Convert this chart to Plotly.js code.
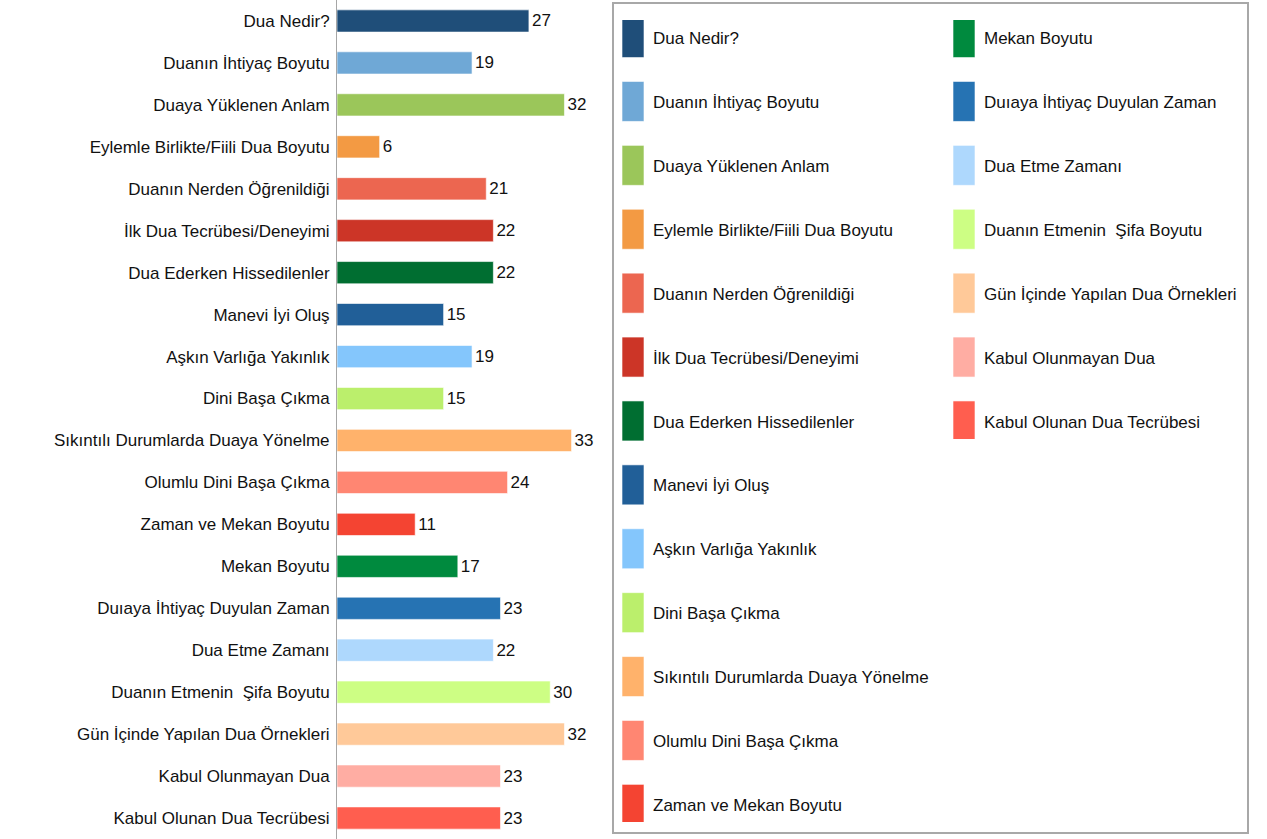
<!DOCTYPE html>
<html>
<head>
<meta charset="utf-8">
<script src="https://cdn.plot.ly/plotly-3.0.1.min.js"></script>
<style>html,body{margin:0;padding:0;background:#fff;}#chart{width:1267px;height:839px;}</style>
</head>
<body>
<div id="chart"></div>
<script>
const categories = [
  "Dua Nedir?",
  "Duanın İhtiyaç Boyutu",
  "Duaya Yüklenen Anlam",
  "Eylemle Birlikte/Fiili Dua Boyutu",
  "Duanın Nerden Öğrenildiği",
  "İlk Dua Tecrübesi/Deneyimi",
  "Dua Ederken Hissedilenler",
  "Manevi İyi Oluş",
  "Aşkın Varlığa Yakınlık",
  "Dini Başa Çıkma",
  "Sıkıntılı Durumlarda Duaya Yönelme",
  "Olumlu Dini Başa Çıkma",
  "Zaman ve Mekan Boyutu",
  "Mekan Boyutu",
  "Duıaya İhtiyaç Duyulan Zaman",
  "Dua Etme Zamanı",
  "Duanın Etmenin\u00a0 Şifa Boyutu",
  "Gün İçinde Yapılan Dua Örnekleri",
  "Kabul Olunmayan Dua",
  "Kabul Olunan Dua Tecrübesi"
];
const values = [27, 19, 32, 6, 21, 22, 22, 15, 19, 15, 33, 24, 11, 17, 23, 22, 30, 32, 23, 23];
const colors = [
  "#1f4e79", "#6fa8d6", "#9bc65a", "#f39a43", "#ec6650",
  "#cc3527", "#006e31", "#215f98", "#84c6fc", "#bbef6c",
  "#ffb26b", "#ff8672", "#f44432", "#008a3e", "#2673b3",
  "#aed8fd", "#cdfe84", "#ffc999", "#ffada3", "#ff5e4f"
];

const FONT = "Liberation Sans, Arial, sans-serif";
const FS = 17;

const traces = categories.map((c, i) => ({
  type: "bar",
  orientation: "h",
  name: c,
  x: [values[i]],
  y: [c],
  marker: {color: colors[i], line: {color: "rgba(255,255,255,0.6)", width: 1}},
  text: [String(values[i])],
  textposition: "outside",
  cliponaxis: false,
  textfont: {family: FONT, size: FS, color: "#111111"},
  width: 0.53,
  legend: i < 13 ? "legend" : "legend2",
  legendgroup: "g" + i,
  hoverinfo: "x+y"
}));

const L = 337, W = 1267, H = 839;
const px = v => (v - L) / (W - L);
const py = v => 1 - v / H;

const legendCommon = {
  font: {family: FONT, size: FS, color: "#111111"},
  bgcolor: "rgba(0,0,0,0)",
  borderwidth: 0,
  xanchor: "left",
  yanchor: "top",
  tracegroupgap: 38.8,
  itemwidth: 30,
  maxheight: 2000,
  orientation: "v"
};

const layout = {
  width: W,
  height: H,
  margin: {l: L, r: 0, t: 0, b: 0},
  paper_bgcolor: "#fff",
  plot_bgcolor: "#fff",
  barmode: "overlay",
  showlegend: true,
  font: {family: FONT, size: FS, color: "#111111"},
  xaxis: {
    domain: [0, px(600)],
    range: [0, 37],
    visible: false,
    showgrid: false,
    zeroline: false
  },
  yaxis: {
    type: "category",
    autorange: "reversed",
    showline: true,
    linecolor: "#a6a6a6",
    linewidth: 1,
    showgrid: false,
    zeroline: false,
    ticks: "",
    ticklabelstandoff: 3,
    tickfont: {family: FONT, size: FS, color: "#111111"}
  },
  legend: Object.assign({}, legendCommon, {x: px(613), y: py(20)}),
  legend2: Object.assign({}, legendCommon, {x: px(944), y: py(20)}),
  shapes: [{
    type: "rect", xref: "paper", yref: "paper",
    x0: px(613), x1: px(1248), y0: py(833), y1: py(3),
    line: {color: "#a8a8a8", width: 2},
    fillcolor: "rgba(0,0,0,0)"
  }]
};

Plotly.newPlot("chart", traces, layout, {displayModeBar: false, responsive: false}).then(gd => {
  gd.querySelectorAll(".legendpoints path").forEach(p => {
    p.setAttribute("d", "M-11,-20H11V20H-11Z");
  });
});
</script>
</body>
</html>
